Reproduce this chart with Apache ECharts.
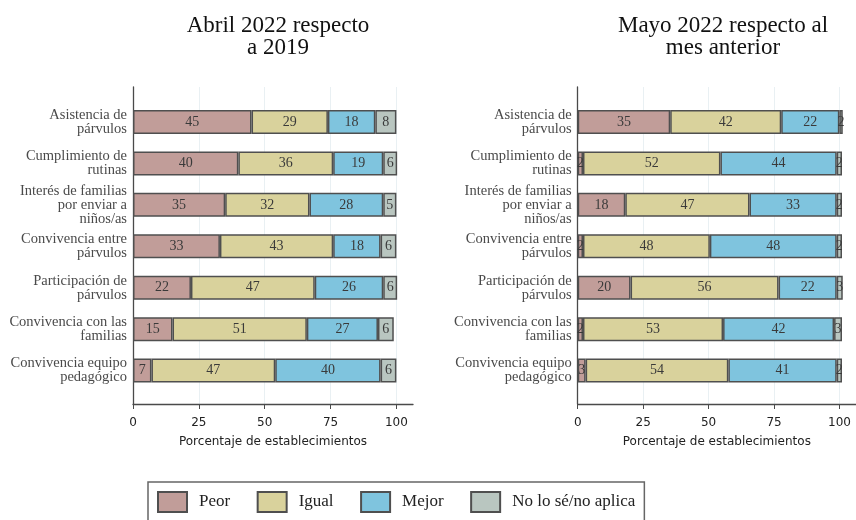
<!DOCTYPE html>
<html>
<head>
<meta charset="utf-8">
<script src="https://cdn.jsdelivr.net/npm/echarts@6.0.0/dist/echarts.min.js"></script>
<style>
  html, body { margin: 0; padding: 0; background: #fff; }
  #chart { width: 856px; height: 520px; }
</style>
</head>
<body>
<div id="chart"></div>
<script>
// categorias (de arriba hacia abajo)
const categories = [
  'Asistencia de\npárvulos',
  'Cumplimiento de\nrutinas',
  'Interés de familias\npor enviar a\nniños/as',
  'Convivencia entre\npárvulos',
  'Participación de\npárvulos',
  'Convivencia con las\nfamilias',
  'Convivencia equipo\npedagógico'
];
const seriesNames = ['Peor', 'Igual', 'Mejor', 'No lo sé/no aplica'];
const xTicks = [0, 25, 50, 75, 100];

// Abril 2022 respecto a 2019
const abrilPeor = [45, 40, 35, 33, 22, 15, 7];
const abrilIgual = [29, 36, 32, 43, 47, 51, 47];
const abrilMejor = [18, 19, 28, 18, 26, 27, 40];
const abrilNoSabe = [8, 6, 5, 6, 6, 6, 6];

// Mayo 2022 respecto al mes anterior
const mayoPeor = [35, 2, 18, 2, 20, 2, 3];
const mayoIgual = [42, 52, 47, 48, 56, 53, 54];
const mayoMejor = [22, 44, 33, 48, 22, 42, 41];
const mayoNoSabe = [2, 2, 2, 2, 3, 3, 2];

const colors = ['#c19d99', '#d9d29c', '#7fc4de', '#b9c6c0'];
const serif = '"Liberation Serif", "DejaVu Serif", serif';
const sans = '"DejaVu Sans", sans-serif';

const chart = echarts.init(document.getElementById('chart'));

// marco: eje x extendido un poco mas alla de 100, como en Stata
function frameAxes(gridIndex) {
  return {
    x: {
      type: 'value', gridIndex: gridIndex, min: 0, max: 106.3, interval: 25,
      axisLine: { lineStyle: { color: '#4a4a4a', width: 1.3 } },
      axisTick: { customValues: xTicks, length: 5, lineStyle: { color: '#4a4a4a' } },
      axisLabel: { customValues: xTicks, margin: 13, fontFamily: sans, fontSize: 12, color: '#222' },
      splitLine: { show: true, lineStyle: { color: '#e9f0f3', width: 1 } },
      name: 'Porcentaje de establecimientos',
      nameLocation: 'middle', nameGap: 32,
      nameTextStyle: { fontFamily: sans, fontSize: 12, color: '#222' }
    },
    y: {
      type: 'value', gridIndex: gridIndex, min: 0, max: 1,
      axisLine: { show: true, lineStyle: { color: '#4a4a4a', width: 1.3 } },
      axisTick: { show: false }, axisLabel: { show: false }, splitLine: { show: false }
    }
  };
}

function barAxes(gridIndex) {
  return {
    x: { type: 'value', gridIndex: gridIndex, min: 0, max: 100, show: false },
    y: {
      type: 'category', gridIndex: gridIndex, data: categories, inverse: true,
      axisLine: { show: false }, axisTick: { show: false },
      axisLabel: { margin: 6, fontFamily: serif, fontSize: 14.5, lineHeight: 14, color: '#4a4a4a', align: 'right' }
    }
  };
}

function barSeries(name, data, color, axisIndex, stack) {
  return {
    name: name, type: 'bar', stack: stack, data: data,
    xAxisIndex: axisIndex, yAxisIndex: axisIndex,
    barWidth: 24,
    itemStyle: { color: color, borderColor: '#4f4f4f', borderWidth: 1.5 },
    label: { show: true, position: 'inside', fontFamily: serif, fontSize: 14, color: '#3a3a3a' },
    emphasis: { disabled: true }
  };
}

const fL = frameAxes(0), bL = barAxes(1), fR = frameAxes(2), bR = barAxes(3);

const option = {
  animation: false,
  title: [
    { text: 'Abril 2022 respecto\na 2019', left: 273, top: 10, textAlign: 'center',
      textStyle: { fontFamily: serif, fontSize: 23, lineHeight: 22, fontWeight: 'normal', color: '#111' } },
    { text: 'Mayo 2022 respecto al\nmes anterior', left: 718, top: 10, textAlign: 'center',
      textStyle: { fontFamily: serif, fontSize: 23, lineHeight: 22, fontWeight: 'normal', color: '#111' } }
  ],
  legend: {
    data: seriesNames,
    left: 148, top: 482,
    padding: [9, 9, 9, 9],
    borderColor: '#666', borderWidth: 1.5,
    itemWidth: 29, itemHeight: 20, itemGap: 26.5,
    icon: 'rect',
    selectedMode: false,
    textStyle: { fontFamily: serif, fontSize: 17, color: '#222', padding: [0, 0, 0, 7] }
  },
  grid: [
    { left: 133, top: 87, width: 280, height: 317 },
    { left: 133, top: 101.3, width: 263.4, height: 290 },
    { left: 577.7, top: 87, width: 280, height: 317 },
    { left: 577.7, top: 101.3, width: 264.3, height: 290 }
  ],
  xAxis: [fL.x, bL.x, fR.x, bR.x],
  yAxis: [fL.y, bL.y, fR.y, bR.y],
  series: [
    barSeries(seriesNames[0], abrilPeor, colors[0], 1, 'abril'),
    barSeries(seriesNames[1], abrilIgual, colors[1], 1, 'abril'),
    barSeries(seriesNames[2], abrilMejor, colors[2], 1, 'abril'),
    barSeries(seriesNames[3], abrilNoSabe, colors[3], 1, 'abril'),
    barSeries(seriesNames[0], mayoPeor, colors[0], 3, 'mayo'),
    barSeries(seriesNames[1], mayoIgual, colors[1], 3, 'mayo'),
    barSeries(seriesNames[2], mayoMejor, colors[2], 3, 'mayo'),
    barSeries(seriesNames[3], mayoNoSabe, colors[3], 3, 'mayo')
  ]
};

chart.setOption(option);
</script>
</body>
</html>
